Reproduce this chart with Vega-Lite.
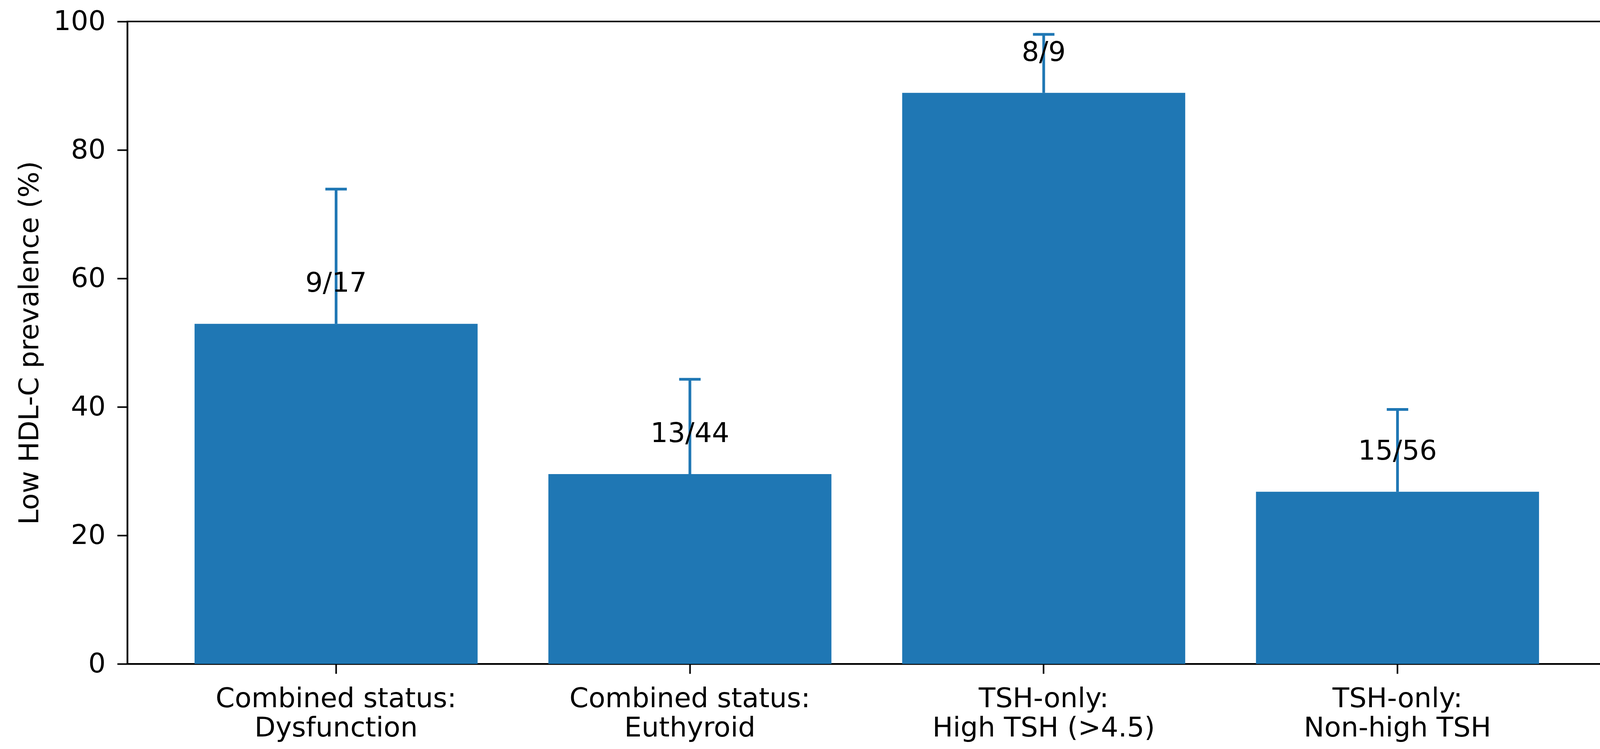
{
  "$schema": "https://vega.github.io/schema/vega-lite/v6.json",
  "autosize": "none",
  "width": 3786,
  "height": 1645,
  "padding": {"left": 326, "top": 55, "right": 34, "bottom": 218},
  "background": "white",
  "config": {
    "font": "DejaVu Sans",
    "view": {"stroke": "black", "strokeWidth": 4},
    "axis": {
      "grid": false,
      "domainColor": "black",
      "domainWidth": 4,
      "tickColor": "black",
      "tickWidth": 4,
      "labelColor": "black",
      "titleColor": "black",
      "labelFontSize": 70,
      "titleFontSize": 70,
      "titleFontWeight": "normal",
      "labelLimit": 0
    }
  },
  "data": {
    "values": [
      {"group": "Combined status:\nDysfunction", "prevalence": 52.94, "upper": 73.9, "count": "9/17"},
      {"group": "Combined status:\nEuthyroid", "prevalence": 29.55, "upper": 44.3, "count": "13/44"},
      {"group": "TSH-only:\nHigh TSH (>4.5)", "prevalence": 88.89, "upper": 98.0, "count": "8/9"},
      {"group": "TSH-only:\nNon-high TSH", "prevalence": 26.79, "upper": 39.6, "count": "15/56"}
    ]
  },
  "encoding": {
    "x": {
      "field": "group",
      "type": "nominal",
      "sort": null,
      "scale": {"paddingInner": 0.2, "paddingOuter": 0.19},
      "axis": {
        "title": null,
        "labelAngle": 0,
        "tickSize": 25,
        "labelPadding": 30,
        "labelLineHeight": 75,
        "labelExpr": "split(datum.label, '\\n')"
      }
    }
  },
  "layer": [
    {
      "mark": {"type": "bar", "color": "#1f77b4"},
      "encoding": {
        "y": {
          "field": "prevalence",
          "type": "quantitative",
          "scale": {"domain": [0, 100], "nice": false},
          "axis": {
            "title": "Low HDL-C prevalence (%)",
            "values": [0, 20, 40, 60, 80, 100],
            "tickSize": 26,
            "labelPadding": 30,
            "titlePadding": 24
          }
        }
      }
    },
    {
      "mark": {"type": "rule", "color": "#1f77b4", "strokeWidth": 7},
      "encoding": {
        "y": {"field": "prevalence", "type": "quantitative"},
        "y2": {"field": "upper"}
      }
    },
    {
      "mark": {"type": "tick", "color": "#1f77b4", "opacity": 1, "orient": "horizontal", "size": 55, "thickness": 7},
      "encoding": {
        "y": {"field": "upper", "type": "quantitative"}
      }
    },
    {
      "mark": {"type": "text", "fontSize": 70, "color": "black", "baseline": "alphabetic", "align": "center", "dy": -82},
      "encoding": {
        "y": {"field": "prevalence", "type": "quantitative"},
        "text": {"field": "count"}
      }
    }
  ]
}
